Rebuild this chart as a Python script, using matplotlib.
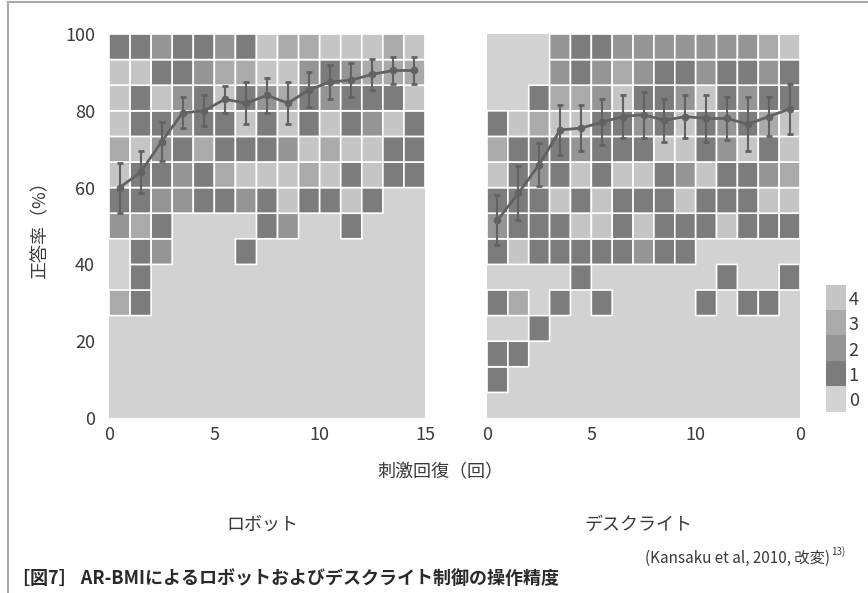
import matplotlib
matplotlib.use("Agg")
import matplotlib.pyplot as plt
import numpy as np
from matplotlib.colors import ListedColormap, BoundaryNorm
from matplotlib.lines import Line2D

plt.rcParams['font.family'] = ['Noto Sans CJK JP', 'DejaVu Sans']

# rows top (93-100%) to bottom (0-7%), columns = repetitions 1..15
robot_grid = [
    [1, 1, 2, 1, 1, 2, 1, 4, 3, 3, 4, 4, 4, 3, 4],
    [4, 4, 1, 1, 2, 3, 3, 4, 4, 2, 1, 2, 3, 3, 3],
    [4, 1, 4, 2, 1, 4, 1, 2, 3, 1, 2, 1, 1, 1, 4],
    [4, 1, 1, 2, 1, 1, 4, 1, 4, 1, 4, 1, 2, 4, 1],
    [3, 4, 2, 1, 3, 1, 1, 1, 2, 4, 3, 4, 4, 1, 1],
    [4, 1, 1, 2, 1, 3, 4, 4, 4, 3, 4, 1, 4, 1, 1],
    [1, 1, 2, 2, 1, 1, 2, 1, 4, 1, 1, 4, 1, 0, 0],
    [2, 3, 1, 0, 0, 0, 0, 1, 2, 0, 0, 1, 0, 0, 0],
    [0, 1, 2, 0, 0, 0, 1, 0, 0, 0, 0, 0, 0, 0, 0],
    [0, 1, 0, 0, 0, 0, 0, 0, 0, 0, 0, 0, 0, 0, 0],
    [3, 1, 0, 0, 0, 0, 0, 0, 0, 0, 0, 0, 0, 0, 0],
    [0, 0, 0, 0, 0, 0, 0, 0, 0, 0, 0, 0, 0, 0, 0],
    [0, 0, 0, 0, 0, 0, 0, 0, 0, 0, 0, 0, 0, 0, 0],
    [0, 0, 0, 0, 0, 0, 0, 0, 0, 0, 0, 0, 0, 0, 0],
    [0, 0, 0, 0, 0, 0, 0, 0, 0, 0, 0, 0, 0, 0, 0],
]
light_grid = [
    [0, 0, 0, 2, 1, 1, 2, 2, 2, 2, 2, 2, 2, 3, 4],
    [0, 0, 0, 2, 1, 2, 3, 2, 1, 1, 2, 1, 1, 2, 1],
    [0, 0, 1, 3, 3, 2, 4, 1, 1, 2, 4, 1, 2, 1, 1],
    [1, 4, 3, 4, 4, 1, 1, 2, 1, 4, 1, 2, 1, 3, 4],
    [3, 1, 1, 1, 2, 1, 1, 1, 4, 4, 1, 2, 4, 1, 4],
    [4, 1, 2, 1, 4, 1, 4, 4, 1, 2, 4, 1, 1, 2, 3],
    [1, 1, 1, 4, 1, 4, 1, 1, 1, 4, 1, 1, 1, 4, 4],
    [2, 1, 1, 1, 4, 4, 1, 4, 1, 1, 1, 4, 1, 1, 1],
    [1, 4, 1, 1, 1, 1, 1, 2, 1, 1, 0, 0, 0, 0, 0],
    [0, 0, 0, 0, 1, 0, 0, 0, 0, 0, 0, 1, 0, 0, 1],
    [1, 3, 0, 1, 0, 1, 0, 0, 0, 0, 1, 0, 1, 1, 0],
    [0, 0, 1, 0, 0, 0, 0, 0, 0, 0, 0, 0, 0, 0, 0],
    [1, 1, 0, 0, 0, 0, 0, 0, 0, 0, 0, 0, 0, 0, 0],
    [1, 0, 0, 0, 0, 0, 0, 0, 0, 0, 0, 0, 0, 0, 0],
    [0, 0, 0, 0, 0, 0, 0, 0, 0, 0, 0, 0, 0, 0, 0],
]

robot_mean = [60, 64, 72, 79.5, 80, 83, 82, 84, 82, 85.5, 87.5, 88, 89.5, 90.5, 90.5]
robot_err = [6.5, 5.5, 5, 4, 4, 3.5, 5.5, 4.5, 5.5, 4.5, 4.5, 4.5, 4, 3.5, 3.5]
light_mean = [51.5, 58.5, 66, 75, 75.5, 77, 78.5, 79, 77.5, 78.5, 78, 78, 76.5, 78.5, 80.5]
light_err = [6.5, 7, 5.5, 6.5, 6, 6, 5.5, 6, 5.5, 5.5, 6, 5.5, 7, 5, 6.5]

levels = [0, 1, 2, 3, 4]
level_colors = ['#d2d2d2', '#7c7c7c', '#959595', '#aaaaaa', '#c5c5c5']
y_ticks = [0, 20, 40, 60, 80, 100]
robot_xticklabels = ['0', '5', '10', '15']
light_xticklabels = ['0', '5', '10', '0']

cmap = ListedColormap(level_colors)
norm = BoundaryNorm(np.arange(-0.5, 5.5, 1), cmap.N)

W, H = 868, 593
fig = plt.figure(figsize=(W / 100, H / 100), dpi=100)

def fx(px):
    return px / W

def fy(py):
    return 1 - py / H

tick_color = '#3a3a3a'


def panel(left, width, grid, mean, err, xlabels, show_y):
    ax = fig.add_axes([fx(left), fy(418), fx(width), 384 / H])
    ax.set_facecolor(level_colors[0])
    g = np.array(grid)[::-1]
    n = g.shape[0]
    xe = np.arange(16)
    ye = np.linspace(0, 100, n + 1)
    data = np.ma.masked_equal(g, 0)
    ax.pcolor(xe, ye, data, cmap=cmap, norm=norm, edgecolors='white', linewidth=1.2)
    xs = np.arange(15) + 0.5
    ax.errorbar(xs, mean, yerr=err, color='#626262', lw=2, elinewidth=1.5,
                capsize=2.5, capthick=2, marker='o', ms=4.5, zorder=5)
    ax.set_xlim(0, 15)
    ax.set_ylim(0, 100)
    for s in ax.spines.values():
        s.set_visible(False)
    ax.set_xticks([0, 5, 10, 15])
    ax.set_xticklabels(xlabels)
    ax.tick_params(length=0, labelsize=13, colors=tick_color, pad=6)
    if show_y:
        ax.set_yticks(y_ticks)
        ax.tick_params(axis='y', pad=10)
    else:
        ax.set_yticks([])
    return ax


panel(109, 316, robot_grid, robot_mean, robot_err, robot_xticklabels, True)
panel(487, 313, light_grid, light_mean, light_err, light_xticklabels, False)

# colour key
cax = fig.add_axes([fx(826), fy(412), fx(20), 127 / H])
cax.imshow(np.array(levels[::-1]).reshape(-1, 1), cmap=cmap, norm=norm,
           aspect='auto', extent=[0, 1, 0, 5])
for s in cax.spines.values():
    s.set_visible(False)
cax.set_xticks([])
cax.set_yticks(np.arange(5) + 0.5)
cax.set_yticklabels([str(v) for v in levels])
cax.yaxis.tick_right()
cax.tick_params(length=0, labelsize=13, colors=tick_color, pad=2)

fig.text(fx(40), fy(226), '正答率（%）', rotation=90, ha='center', va='center',
         fontsize=13, color=tick_color)
fig.text(fx(440), fy(472), '刺激回復（回）', ha='center', va='center',
         fontsize=13, color=tick_color)
fig.text(fx(262), fy(525), 'ロボット', ha='center', va='center',
         fontsize=13, color=tick_color)
fig.text(fx(638), fy(525), 'デスクライト', ha='center', va='center',
         fontsize=13, color=tick_color)
fig.text(fx(830), fy(558), '(Kansaku et al, 2010, 改変)', ha='right', va='center',
         fontsize=11, color=tick_color)
fig.text(fx(831), fy(552), '13)', ha='left', va='center', fontsize=7, color=tick_color)
fig.text(fx(12), fy(578), '［図7］ AR-BMIによるロボットおよびデスクライト制御の操作精度',
         ha='left', va='center', fontsize=13, fontweight='bold', color='#2a2a2a')

# page frame on the left and top edges
fig.add_artist(Line2D([fx(8), fx(8)], [fy(2), fy(593)], transform=fig.transFigure,
                      color='#a8a8a8', lw=1.5))
fig.add_artist(Line2D([fx(8), fx(868)], [fy(2), fy(2)], transform=fig.transFigure,
                      color='#a8a8a8', lw=1.5))

fig.savefig('out.png', dpi=100)
